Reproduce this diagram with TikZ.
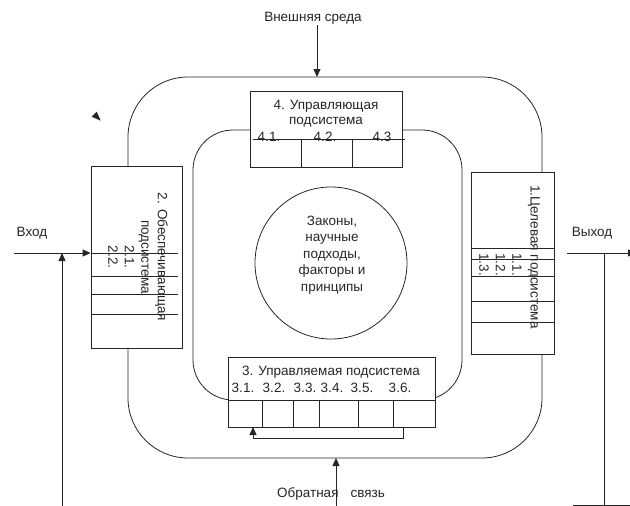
\documentclass[tikz,border=0pt]{standalone}
\usepackage{fontspec}
\setmainfont{Liberation Sans}
\usetikzlibrary{arrows.meta}
\begin{document}
\begin{tikzpicture}[x=1pt,y=-1pt,
  line width=0.8pt, color=black!85,
  txt/.style={inner sep=0pt, font=\fontsize{13.5}{16.5}\selectfont},
  box/.style={draw, fill=white, inner sep=0pt},
  arr/.style={-{Triangle[length=8pt,width=7pt]}},
]
\useasboundingbox (0,0) rectangle (630,506);
% frames
\draw[rounded corners=60pt] (128,77) rectangle (542,458);
\draw[rounded corners=40pt] (193,130) rectangle (462,400);
% boxes
\node[box, minimum width=152pt, minimum height=76pt] (b4) at (326,129) {};
\node[box, minimum width=91pt, minimum height=182pt] (b2) at (136.5,257) {};
\node[box, minimum width=83pt, minimum height=182pt] (b1) at (512.5,263) {};
\node[box, minimum width=207pt, minimum height=70pt] (b3) at (331.5,392) {};
% circle
\node[draw, circle, minimum size=152pt, inner sep=0pt] (c) at (331,263) {};
\node[txt, align=center] (ct) at (332,255) {Законы,\\научные\\подходы,\\факторы и\\принципы};
% box 4 internals
\draw (253,139) -- (405,139);
\foreach \xx in {301,352} \draw (\xx,139) -- (\xx,167);
\node[txt, align=center, font=\fontsize{13.5}{15}\selectfont] (t4) at (326,114) {4. Управляющая\\подсистема};
\node[txt] (t41) at (269,137) {4.1.};
\node[txt] (t42) at (325,137) {4.2.};
\node[txt] (t43) at (382,137) {4.3};
% box 2 internals
\foreach \yy in {253,276,294,314} \draw (b2.west |- 0,\yy) -- (178,\yy);
\node[txt, rotate=-90, align=center] (t2) at (138,257) {2. Обеспечивающая\\подсистема\\2.1.\\2.2.};
% box 1 internals
\foreach \yy in {248,259,276,301,322} \draw (b1.west |- 0,\yy) -- (555,\yy);
\node[txt, rotate=-90] (t1) at (534,257) {1.Целевая подсистема};
\node[txt, rotate=-90, align=left, anchor=north west] (t1n) at (522,253) {1.1.\\1.2.\\1.3.};
% box 3 internals
\draw (b3.west |- 0,400) -- (b3.east |- 0,400);
\foreach \xx in {262,293,319,358,393} \draw (\xx,400) -- (\xx,427);
\node[txt] (t3) at (331,372) {3. Управляемая подсистема};
\node[txt] (t31) at (243,388) {3.1.};
\node[txt] (t32) at (274,388) {3.2.};
\node[txt] (t33) at (305,388) {3.3.};
\node[txt] (t34) at (332,388) {3.4.};
\node[txt] (t35) at (362,388) {3.5.};
\node[txt] (t36) at (400,388) {3.6.};
\coordinate (fbR) at (403,427);
\coordinate (fbL) at (253,427);
\draw[arr] (fbR) -- ++(0,11) -| (fbL);
% external environment
\node[txt] (ext) at (313,18) {Внешняя среда};
\coordinate (otop) at (317,77);
\draw[arr] (otop |- 0,25) -- (otop);
% feedback
\coordinate (obot) at (336,458);
\coordinate (fbs) at (336,506);
\node[txt] (fb) at (331,494) {Обратная\hspace{12pt}связь};
\draw[arr] (fbs) -- (obot);
% input
\node[txt] (in) at (32,233) {Вход};
\coordinate (inS) at (14,253);
\draw[arr] (inS) -- (inS -| b2.west);
\coordinate (vb) at (62,506);
\coordinate (vj) at (62,253);
\draw[arr] (vb) -- (vj);
% output
\node[txt] (out) at (592,233) {Выход};
\coordinate (oS) at (567,253);
\coordinate (oE) at (636,253);
\draw[arr] (oS) -- (oE);
\coordinate (ovt) at (604,253);
\coordinate (ovb) at (604,506);
\draw (ovt) -- (ovb);
\coordinate (obl) at (573,505);
\coordinate (obr) at (630,505);
\draw (obl) -- (obr);
% stray arrowhead
\fill (96.7,111.7) -- (91.7,116.7) -- (100.7,120.7) -- cycle;
\end{tikzpicture}
\end{document}
